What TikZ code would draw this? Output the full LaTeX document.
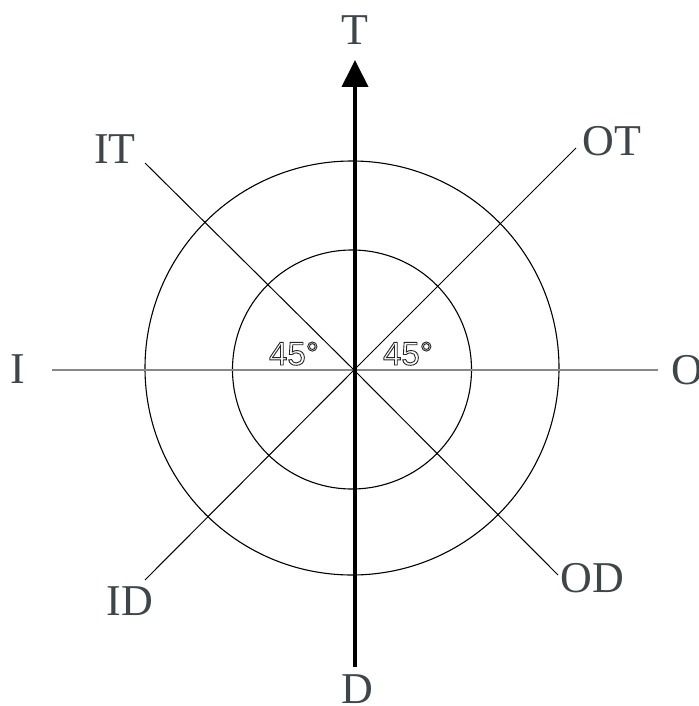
\documentclass[tikz,border=0pt]{standalone}
\usepackage{fontspec}
\setmainfont{Liberation Serif}
\newfontfamily\degfont{Liberation Sans}
\usetikzlibrary{arrows.meta}
\definecolor{labelgray}{RGB}{62,70,73}
\definecolor{axisgray}{RGB}{136,136,136}
\tikzset{
  lbl/.style={anchor=base, inner sep=0pt, text=labelgray, font=\fontsize{44}{44}\selectfont},
  ang/.style={anchor=base, inner sep=0pt, font=\degfont\fontsize{33}{33}\selectfont},
  thinline/.style={line width=1pt, black},
  ring/.style={line width=1.1pt, black}
}
\newcommand{\hollowtext}[1]{\special{pdf:literal direct 1 Tr 0.9 w 0.15 G}#1\special{pdf:literal direct 0 Tr}}
\begin{document}
\begin{tikzpicture}[x=1pt, y=-1pt]
\useasboundingbox (0,0) rectangle (698,706);
\coordinate (c) at (354,370);
\coordinate (hl) at (52,370);
\coordinate (hr) at (658,370);
\coordinate (it) at (145,163);
\coordinate (od) at (558,575);
\coordinate (ot) at (576,148);
\coordinate (id) at (145,580);
\coordinate (vb) at (355,667);
\coordinate (vt) at (355,60);
% circles
\draw[ring] (352,368) circle[radius=207];
\draw[ring] (352,369.5) circle[radius=119.5];
% horizontal axis
\draw[line width=1.6pt, axisgray] (hl) -- (hr);
% diagonals
\draw[thinline] (it) -- (c) -- (od);
\draw[thinline] (ot) -- (c) -- (id);
% vertical arrow
\draw[line width=4pt, black, -{Triangle[length=27pt, width=26pt]}] (vb) -- (vt);
% labels
\node[lbl] (T) at (355,45) {T};
\node[lbl] (IT) at (115,163) {IT};
\node[lbl] (OT) at (612,155) {OT};
\node[lbl] (I) at (18,383) {I};
\node[lbl] (O) at (687,384) {O};
\node[lbl] (ID) at (130,615) {ID};
\node[lbl] (OD) at (592,592) {OD};
\node[lbl] (D) at (357,703) {D};
\node[ang] (a1) at (294,365) {\hollowtext{45°}};
\node[ang] (a2) at (408,365) {\hollowtext{45°}};
\end{tikzpicture}
\end{document}
